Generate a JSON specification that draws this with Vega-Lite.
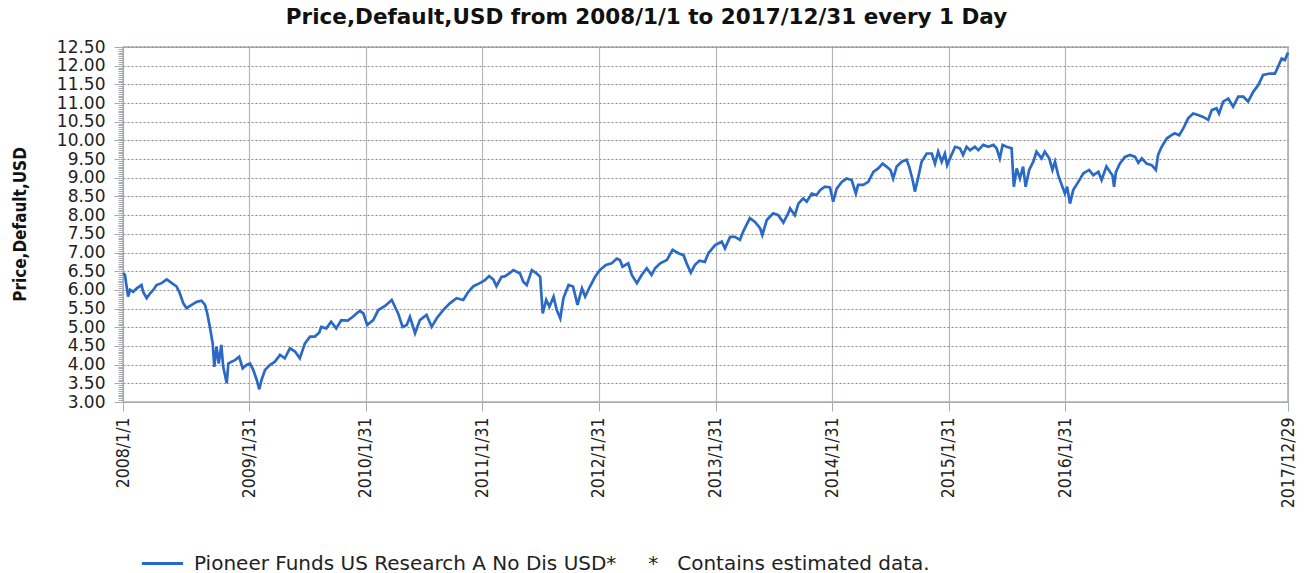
{
  "$schema": "https://vega.github.io/schema/vega-lite/v6.json",
  "width": 1165,
  "height": 355,
  "autosize": {"type": "none"},
  "padding": {"left": 123, "top": 47, "right": 21, "bottom": 171},
  "background": "white",
  "title": {
    "text": "Price,Default,USD from 2008/1/1 to 2017/12/31 every 1 Day",
    "font": "DejaVu Sans",
    "fontSize": 21.5,
    "fontWeight": "bold",
    "color": "#111",
    "anchor": "middle",
    "dx": -59,
    "baseline": "alphabetic",
    "offset": -7
  },
  "config": {
    "view": {"stroke": "#a8acb2", "strokeWidth": 1.5},
    "axis": {"domainColor": "#a8acb2", "tickColor": "#a8acb2", "labelColor": "#222", "titleColor": "#111"}
  },
  "data": {"values": [
    {"date":"2008-01-02","price":6.45},{"date":"2008-01-07","price":6.40},{"date":"2008-01-17","price":5.82},{"date":"2008-01-23","price":6.00},
    {"date":"2008-02-02","price":5.95},{"date":"2008-02-13","price":6.04},{"date":"2008-02-28","price":6.13},{"date":"2008-03-04","price":5.95},
    {"date":"2008-03-15","price":5.78},{"date":"2008-03-26","price":5.91},{"date":"2008-04-05","price":6.00},{"date":"2008-04-15","price":6.13},
    {"date":"2008-05-01","price":6.18},{"date":"2008-05-17","price":6.28},{"date":"2008-06-01","price":6.19},{"date":"2008-06-17","price":6.09},
    {"date":"2008-06-27","price":5.91},{"date":"2008-07-08","price":5.64},{"date":"2008-07-18","price":5.51},{"date":"2008-08-03","price":5.60},
    {"date":"2008-08-19","price":5.68},{"date":"2008-09-03","price":5.71},{"date":"2008-09-14","price":5.60},{"date":"2008-09-21","price":5.37},
    {"date":"2008-09-29","price":5.02},{"date":"2008-10-08","price":4.57},{"date":"2008-10-13","price":3.94},{"date":"2008-10-20","price":4.48},
    {"date":"2008-10-27","price":4.03},{"date":"2008-11-04","price":4.53},{"date":"2008-11-10","price":3.94},{"date":"2008-11-21","price":3.50},
    {"date":"2008-11-26","price":4.03},{"date":"2008-12-06","price":4.08},{"date":"2008-12-17","price":4.12},{"date":"2008-12-30","price":4.21},
    {"date":"2009-01-10","price":3.90},{"date":"2009-01-22","price":3.99},{"date":"2009-02-02","price":4.03},{"date":"2009-02-12","price":3.86},
    {"date":"2009-02-23","price":3.59},{"date":"2009-03-03","price":3.34},{"date":"2009-03-10","price":3.59},{"date":"2009-03-21","price":3.86},
    {"date":"2009-04-05","price":3.99},{"date":"2009-04-21","price":4.08},{"date":"2009-05-07","price":4.26},{"date":"2009-05-22","price":4.17},
    {"date":"2009-06-07","price":4.44},{"date":"2009-06-23","price":4.35},{"date":"2009-07-08","price":4.17},{"date":"2009-07-24","price":4.57},
    {"date":"2009-08-09","price":4.75},{"date":"2009-08-24","price":4.75},{"date":"2009-09-07","price":4.86},{"date":"2009-09-13","price":5.01},
    {"date":"2009-09-29","price":4.97},{"date":"2009-10-14","price":5.15},{"date":"2009-10-30","price":4.97},{"date":"2009-11-15","price":5.19},
    {"date":"2009-12-05","price":5.18},{"date":"2009-12-21","price":5.28},{"date":"2010-01-12","price":5.44},{"date":"2010-01-23","price":5.37},
    {"date":"2010-02-04","price":5.06},{"date":"2010-02-23","price":5.19},{"date":"2010-03-11","price":5.46},{"date":"2010-04-01","price":5.57},
    {"date":"2010-04-22","price":5.73},{"date":"2010-05-02","price":5.55},{"date":"2010-05-12","price":5.37},{"date":"2010-05-26","price":5.01},
    {"date":"2010-06-08","price":5.06},{"date":"2010-06-18","price":5.28},{"date":"2010-07-04","price":4.84},{"date":"2010-07-19","price":5.19},
    {"date":"2010-08-09","price":5.33},{"date":"2010-08-25","price":5.01},{"date":"2010-09-10","price":5.24},{"date":"2010-09-30","price":5.46},
    {"date":"2010-10-21","price":5.64},{"date":"2010-11-11","price":5.78},{"date":"2010-12-02","price":5.73},{"date":"2010-12-18","price":5.95},
    {"date":"2011-01-03","price":6.10},{"date":"2011-01-23","price":6.18},{"date":"2011-02-08","price":6.26},{"date":"2011-02-21","price":6.37},
    {"date":"2011-03-06","price":6.28},{"date":"2011-03-16","price":6.10},{"date":"2011-04-01","price":6.35},{"date":"2011-04-11","price":6.36},
    {"date":"2011-04-25","price":6.44},{"date":"2011-05-08","price":6.53},{"date":"2011-05-29","price":6.44},{"date":"2011-06-08","price":6.22},
    {"date":"2011-06-19","price":6.13},{"date":"2011-07-05","price":6.53},{"date":"2011-07-20","price":6.44},{"date":"2011-07-31","price":6.35},
    {"date":"2011-08-08","price":5.37},{"date":"2011-08-19","price":5.73},{"date":"2011-08-29","price":5.55},{"date":"2011-09-11","price":5.82},
    {"date":"2011-09-21","price":5.46},{"date":"2011-10-02","price":5.24},{"date":"2011-10-12","price":5.78},{"date":"2011-10-28","price":6.13},
    {"date":"2011-11-11","price":6.09},{"date":"2011-11-25","price":5.60},{"date":"2011-12-09","price":6.04},{"date":"2011-12-19","price":5.82},
    {"date":"2012-01-03","price":6.09},{"date":"2012-01-19","price":6.35},{"date":"2012-02-03","price":6.53},{"date":"2012-02-22","price":6.67},
    {"date":"2012-03-11","price":6.71},{"date":"2012-03-27","price":6.84},{"date":"2012-04-06","price":6.80},{"date":"2012-04-14","price":6.62},
    {"date":"2012-05-02","price":6.71},{"date":"2012-05-13","price":6.40},{"date":"2012-05-29","price":6.18},{"date":"2012-06-13","price":6.40},
    {"date":"2012-06-29","price":6.58},{"date":"2012-07-14","price":6.40},{"date":"2012-07-25","price":6.58},{"date":"2012-08-10","price":6.71},
    {"date":"2012-08-31","price":6.80},{"date":"2012-09-18","price":7.07},{"date":"2012-10-06","price":6.98},{"date":"2012-10-22","price":6.93},
    {"date":"2012-11-01","price":6.71},{"date":"2012-11-14","price":6.46},{"date":"2012-11-27","price":6.67},{"date":"2012-12-11","price":6.78},
    {"date":"2012-12-28","price":6.75},{"date":"2013-01-08","price":6.98},{"date":"2013-01-29","price":7.20},{"date":"2013-02-19","price":7.29},
    {"date":"2013-03-01","price":7.11},{"date":"2013-03-17","price":7.42},{"date":"2013-04-01","price":7.42},{"date":"2013-04-17","price":7.34},
    {"date":"2013-04-27","price":7.56},{"date":"2013-05-18","price":7.92},{"date":"2013-06-03","price":7.82},{"date":"2013-06-19","price":7.65},
    {"date":"2013-06-26","price":7.47},{"date":"2013-07-10","price":7.87},{"date":"2013-07-30","price":8.05},{"date":"2013-08-15","price":8.00},
    {"date":"2013-08-31","price":7.80},{"date":"2013-09-15","price":8.05},{"date":"2013-09-21","price":8.18},{"date":"2013-10-06","price":8.00},
    {"date":"2013-10-17","price":8.31},{"date":"2013-11-01","price":8.45},{"date":"2013-11-12","price":8.36},{"date":"2013-11-28","price":8.58},
    {"date":"2013-12-13","price":8.54},{"date":"2013-12-24","price":8.67},{"date":"2014-01-08","price":8.76},{"date":"2014-01-24","price":8.74},
    {"date":"2014-02-03","price":8.36},{"date":"2014-02-14","price":8.71},{"date":"2014-03-02","price":8.89},{"date":"2014-03-17","price":8.98},
    {"date":"2014-04-02","price":8.94},{"date":"2014-04-15","price":8.58},{"date":"2014-04-22","price":8.81},{"date":"2014-05-08","price":8.81},
    {"date":"2014-05-24","price":8.89},{"date":"2014-06-09","price":9.16},{"date":"2014-06-24","price":9.25},{"date":"2014-07-08","price":9.38},
    {"date":"2014-07-20","price":9.30},{"date":"2014-08-02","price":9.20},{"date":"2014-08-10","price":8.98},{"date":"2014-08-21","price":9.30},
    {"date":"2014-09-06","price":9.43},{"date":"2014-09-21","price":9.48},{"date":"2014-09-29","price":9.30},{"date":"2014-10-10","price":8.94},
    {"date":"2014-10-17","price":8.63},{"date":"2014-10-28","price":9.03},{"date":"2014-11-07","price":9.43},{"date":"2014-11-23","price":9.65},
    {"date":"2014-12-09","price":9.65},{"date":"2014-12-19","price":9.38},{"date":"2014-12-29","price":9.70},{"date":"2015-01-09","price":9.43},
    {"date":"2015-01-19","price":9.65},{"date":"2015-01-26","price":9.34},{"date":"2015-02-06","price":9.56},{"date":"2015-02-20","price":9.83},
    {"date":"2015-03-07","price":9.79},{"date":"2015-03-17","price":9.61},{"date":"2015-03-28","price":9.83},{"date":"2015-04-08","price":9.74},
    {"date":"2015-04-23","price":9.83},{"date":"2015-05-04","price":9.74},{"date":"2015-05-19","price":9.88},{"date":"2015-06-04","price":9.83},
    {"date":"2015-06-20","price":9.88},{"date":"2015-06-30","price":9.79},{"date":"2015-07-10","price":9.52},{"date":"2015-07-19","price":9.88},
    {"date":"2015-07-31","price":9.83},{"date":"2015-08-16","price":9.79},{"date":"2015-08-23","price":8.76},{"date":"2015-09-01","price":9.25},
    {"date":"2015-09-11","price":8.98},{"date":"2015-09-21","price":9.30},{"date":"2015-09-29","price":8.76},{"date":"2015-10-10","price":9.21},
    {"date":"2015-10-23","price":9.43},{"date":"2015-11-02","price":9.70},{"date":"2015-11-18","price":9.52},{"date":"2015-11-28","price":9.70},
    {"date":"2015-12-12","price":9.52},{"date":"2015-12-22","price":9.21},{"date":"2015-12-30","price":9.43},{"date":"2016-01-09","price":9.07},
    {"date":"2016-01-20","price":8.81},{"date":"2016-01-30","price":8.58},{"date":"2016-02-06","price":8.76},{"date":"2016-02-15","price":8.31},
    {"date":"2016-02-25","price":8.67},{"date":"2016-03-12","price":8.89},{"date":"2016-03-28","price":9.12},{"date":"2016-04-15","price":9.21},
    {"date":"2016-04-28","price":9.07},{"date":"2016-05-14","price":9.16},{"date":"2016-05-24","price":8.94},{"date":"2016-06-08","price":9.30},
    {"date":"2016-06-19","price":9.16},{"date":"2016-06-27","price":9.07},{"date":"2016-07-02","price":8.76},{"date":"2016-07-08","price":9.16},
    {"date":"2016-07-20","price":9.38},{"date":"2016-08-05","price":9.56},{"date":"2016-08-21","price":9.61},{"date":"2016-09-06","price":9.56},
    {"date":"2016-09-16","price":9.40},{"date":"2016-09-27","price":9.52},{"date":"2016-10-12","price":9.38},{"date":"2016-10-28","price":9.34},
    {"date":"2016-11-10","price":9.21},{"date":"2016-11-17","price":9.61},{"date":"2016-11-28","price":9.83},{"date":"2016-12-14","price":10.05},
    {"date":"2016-12-29","price":10.14},{"date":"2017-01-08","price":10.19},{"date":"2017-01-22","price":10.14},{"date":"2017-02-04","price":10.32},
    {"date":"2017-02-19","price":10.59},{"date":"2017-03-07","price":10.72},{"date":"2017-03-22","price":10.68},{"date":"2017-04-07","price":10.63},
    {"date":"2017-04-23","price":10.55},{"date":"2017-05-04","price":10.81},{"date":"2017-05-19","price":10.86},{"date":"2017-05-27","price":10.72},
    {"date":"2017-06-09","price":11.04},{"date":"2017-06-25","price":11.12},{"date":"2017-07-10","price":10.90},{"date":"2017-07-26","price":11.17},
    {"date":"2017-08-11","price":11.17},{"date":"2017-08-26","price":11.04},{"date":"2017-09-11","price":11.30},{"date":"2017-09-27","price":11.48},
    {"date":"2017-10-12","price":11.75},{"date":"2017-11-02","price":11.79},{"date":"2017-11-18","price":11.79},{"date":"2017-11-28","price":11.97},
    {"date":"2017-12-09","price":12.19},{"date":"2017-12-19","price":12.15},{"date":"2017-12-29","price":12.35}
  ]},
  "resolve": {"axis": {"y": "independent"}},
  "layer": [
    {
      "mark": {"type": "line", "strokeWidth": 2.7, "interpolate": "linear"},
      "encoding": {
        "x": {"field": "date", "type": "temporal",
              "scale": {"type": "utc", "domain": [{"year":2008,"month":1,"date":1,"utc":true},{"year":2017,"month":12,"date":29,"utc":true}]},
              "axis": {
                "title": null,
                "values": [{"year":2008,"month":1,"date":1,"utc":true},{"year":2009,"month":1,"date":31,"utc":true},{"year":2010,"month":1,"date":31,"utc":true},{"year":2011,"month":1,"date":31,"utc":true},{"year":2012,"month":1,"date":31,"utc":true},{"year":2013,"month":1,"date":31,"utc":true},{"year":2014,"month":1,"date":31,"utc":true},{"year":2015,"month":1,"date":31,"utc":true},{"year":2016,"month":1,"date":31,"utc":true},{"year":2017,"month":12,"date":29,"utc":true}],
                "format": "%Y/%-m/%-d",
                "labelAngle": -90,
                "labelAlign": "right",
                "labelBaseline": "middle",
                "labelFont": "Liberation Sans Narrow, DejaVu Sans Condensed, sans-serif",
                "labelFontSize": 17.5,
                "labelPadding": 6,
                "labelOverlap": false,
                "labelFlush": false,
                "tickSize": 9,
                "grid": true,
                "gridColor": "#b4b8be",
                "gridWidth": 1.2
              }},
        "y": {"field": "price", "type": "quantitative",
              "scale": {"domain": [3, 12.5], "nice": false, "zero": false},
              "axis": {
                "orient": "left",
                "title": "Price,Default,USD",
                "titleFont": "Liberation Sans Narrow, DejaVu Sans Condensed, sans-serif",
                "titleFontSize": 17,
                "titleFontWeight": "bold",
                "titleAngle": -90,
                "titleX": -103,
                "titleY": 177,
                "titleAlign": "center",
                "titleBaseline": "middle",
                "values": [3,3.5,4,4.5,5,5.5,6,6.5,7,7.5,8,8.5,9,9.5,10,10.5,11,11.5,12,12.5],
                "format": ".2f",
                "labelFont": "DejaVu Sans",
                "labelFontSize": 17,
                "labelPadding": 9,
                "labelFlush": false,
                "labelOverlap": false,
                "tickSize": 9,
                "grid": true,
                "gridColor": "#8a8a8a",
                "gridDash": [2, 2],
                "gridWidth": 1
              }},
        "color": {
          "datum": "Pioneer Funds US Research A No Dis USD*\u00a0\u00a0\u00a0\u00a0\u00a0*\u00a0\u00a0\u00a0Contains estimated data.",
          "type": "nominal",
          "scale": {"range": ["#2a69c6"]},
          "legend": {
            "title": null,
            "orient": "none",
            "legendX": 17,
            "legendY": 494,
            "symbolType": "stroke",
            "symbolSize": 1700,
            "symbolStrokeWidth": 3,
            "labelFont": "DejaVu Sans",
            "labelFontSize": 20,
            "labelColor": "#222",
            "labelLimit": 2000,
            "labelOffset": 9
          }
        }
      }
    },
    {
      "mark": {"type": "line", "opacity": 0},
      "encoding": {
        "x": {"field": "date", "type": "temporal"},
        "y": {"field": "price", "type": "quantitative",
              "scale": {"domain": [3, 12.5], "nice": false, "zero": false},
              "axis": {"orient": "left", "tickCount": 190, "labels": false, "grid": false, "domain": false, "tickSize": 5, "title": null, "tickColor": "#a8acb2"}}
      }
    }
  ]
}
